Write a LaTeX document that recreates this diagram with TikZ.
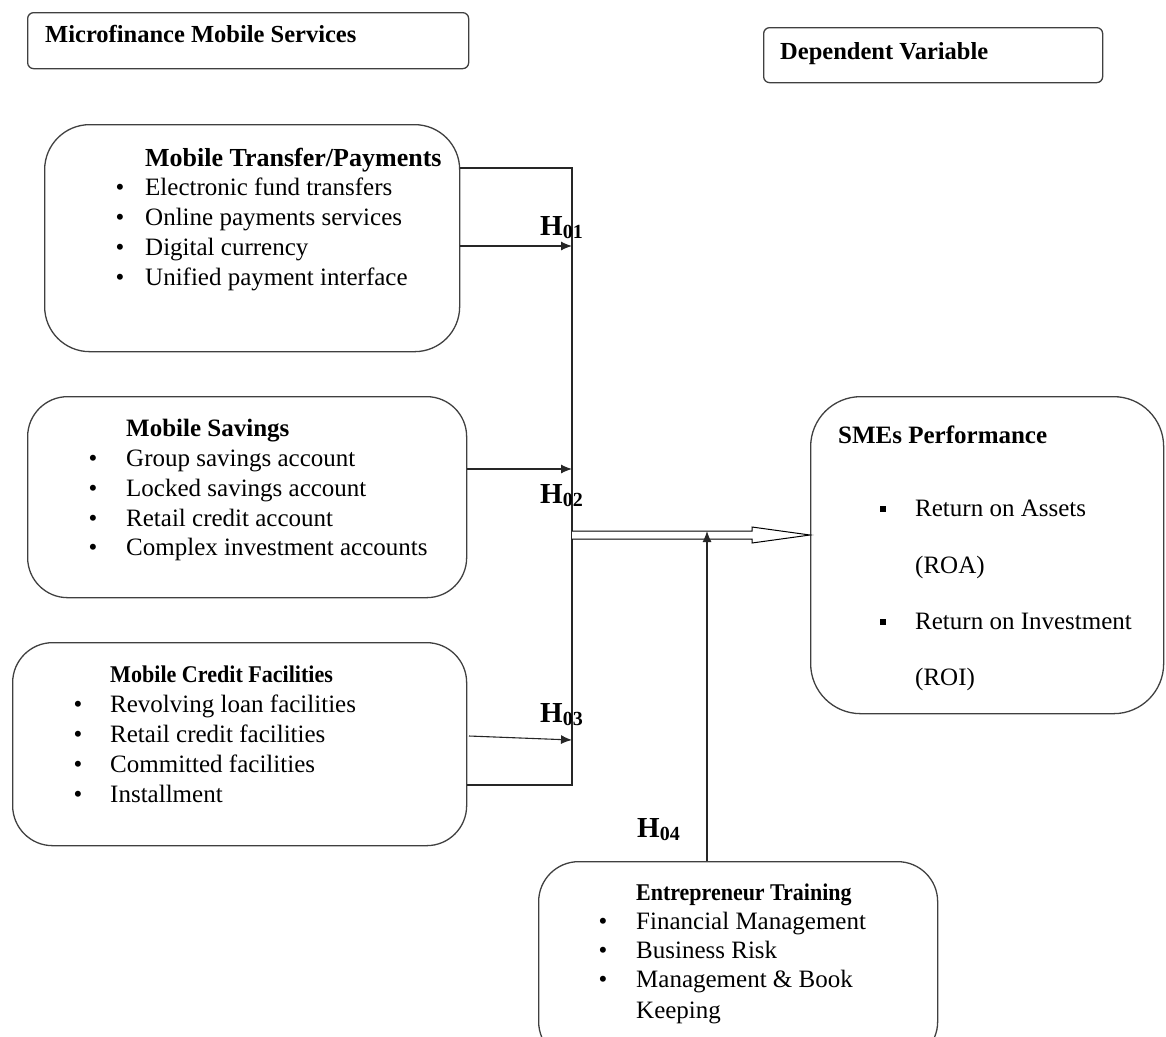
\documentclass[tikz,border=0pt]{standalone}
\usepackage{graphicx}
\usepackage{fontspec}
\setmainfont{Liberation Serif}
\usetikzlibrary{arrows.meta,calc}
\begin{document}
\begin{tikzpicture}[x=1pt,y=-1pt,
  box/.style={draw=black!75,line width=1.3pt,anchor=north west,inner sep=0pt},
  txt/.style={anchor=base west,inner sep=0pt,font=\fontsize{25}{28}\selectfont},
  ttl/.style={anchor=base west,inner sep=0pt,font=\fontsize{#1}{28}\selectfont\bfseries},
  ttl/.default=25,
  bul/.style={anchor=base,inner sep=0pt,font=\fontsize{25}{28}\selectfont},
  hyp/.style={anchor=base west,inner sep=0pt,font=\fontsize{29}{30}\selectfont\bfseries},
  con/.style={line width=1.1pt,draw=black!85},
  arr/.style={con,-{Latex[length=11pt,width=9pt]}}]
\useasboundingbox (0,0) rectangle (1166,1036);
\newcommand{\hsub}[1]{{\fontsize{20}{20}\selectfont\raisebox{-3pt}{#1}}}

% header boxes
\node[box,rounded corners=6pt,minimum width=441pt,minimum height=56pt] (hdr) at (27,12) {};
\node[ttl=24.5] (hdrt) at (45,42) {Microfinance Mobile Services};
\node[box,rounded corners=6pt,minimum width=339pt,minimum height=55pt] (dv) at (763,27) {};
\node[ttl=24.5] (dvt) at (780,59) {Dependent Variable};

% Mobile Transfer/Payments
\node[box,rounded corners=45pt,minimum width=415pt,minimum height=227pt] (mtp) at (44,124) {};
\node[ttl=26] (mtpt) at (145,166) {Mobile Transfer/Payments};
\foreach \t [count=\i] in {Electronic fund transfers,Online payments services,Digital currency,Unified payment interface}{
  \node[bul] (mtpb\i) at (120,{165+30*\i}) {\textbullet};
  \node[txt] (mtpl\i) at (145,{165+30*\i}) {\t};
}

% Mobile Savings
\node[box,rounded corners=40pt,minimum width=439pt,minimum height=201pt] (ms) at (27,396) {};
\node[ttl=25] (mst) at (126,436) {Mobile Savings};
\foreach \t [count=\i] in {Group savings account,Locked savings account,Retail credit account,Complex investment accounts}{
  \node[bul] (msb\i) at (93,{437+29.7*\i}) {\textbullet};
  \node[txt] (msl\i) at (126,{437+29.7*\i}) {\t};
}

% Mobile Credit Facilities
\node[box,rounded corners=40pt,minimum width=454pt,minimum height=203pt] (mc) at (12,642) {};
\node[ttl=24] (mct) at (110,682) {\scalebox{0.92}[1]{Mobile Credit Facilities}};
\foreach \t [count=\i] in {Revolving loan facilities,Retail credit facilities,Committed facilities,Installment}{
  \node[bul] (mcb\i) at (78,{682+30*\i}) {\textbullet};
  \node[txt] (mcl\i) at (110,{682+30*\i}) {\t};
}

% SMEs Performance
\node[box,rounded corners=50pt,minimum width=353pt,minimum height=317pt] (sme) at (810,396) {};
\node[ttl=25] (smet) at (838,443) {SMEs Performance};
\node[bul] (smeb1) at (883,516) {\rule[4pt]{6pt}{6pt}};
\node[txt] (smel1) at (915,516) {Return on Assets};
\node[txt] (smel2) at (915,573) {(ROA)};
\node[bul] (smeb2) at (883,629) {\rule[4pt]{6pt}{6pt}};
\node[txt] (smel3) at (915,629) {Return on Investment};
\node[txt] (smel4) at (915,685) {(ROI)};

% Entrepreneur Training
\node[box,rounded corners=40pt,minimum width=399pt,minimum height=200pt] (et) at (538,861) {};
\node[ttl=24] (ett) at (636,900) {\scalebox{0.915}[1]{Entrepreneur Training}};
\foreach \t [count=\i] in {Financial Management,Business Risk,Management \& Book}{
  \node[bul] (etb\i) at (603,{900+29*\i}) {\textbullet};
  \node[txt] (etl\i) at (636,{900+29*\i}) {\t};
}
\node[txt] (etl4) at (636,1018) {Keeping};

% connectors
\coordinate (vtop) at (572,168);
\coordinate (h1) at (572,246);
\coordinate (h2) at (572,469);
\coordinate (h3) at (572,740);
\coordinate (vbot) at (572,785);
\coordinate (jn) at (572,535);
\coordinate (tp) at (707,531);

\draw[con] (mtp.east |- vtop) -- (vtop) -- (vbot) -- (mc.east |- vbot);
\draw[arr] (mtp.east |- h1) -- (h1);
\draw[arr] (ms.east |- h2) -- (h2);
\draw[arr] (469,736) -- (h3);

% double hollow arrow
\draw[line width=1pt,fill=white] ($(jn)+(0,-4)$) -- ($(sme.west |- jn)+(-58,-4)$) -- ++(0,-4) -- (sme.west |- jn) -- ($(sme.west |- jn)+(-58,8)$) -- ++(0,-4) -- ($(jn)+(0,4)$);
\draw[arr] (et.north -| tp) -- (tp);

% hypothesis labels
\node[hyp] (H1) at (540,235) {H\hsub{01}};
\node[hyp] (H2) at (540,503) {H\hsub{02}};
\node[hyp] (H3) at (540,722) {H\hsub{03}};
\node[hyp] (H4) at (637,837) {H\hsub{04}};
\end{tikzpicture}
\end{document}
